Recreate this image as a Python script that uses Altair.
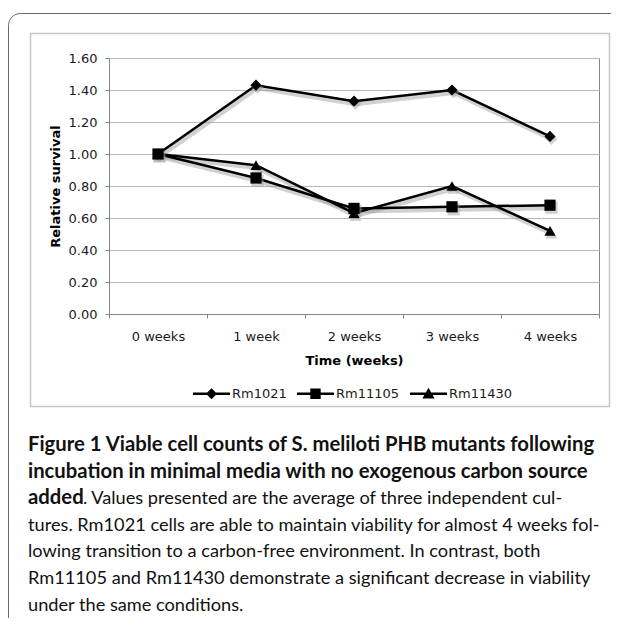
import altair as alt
import pandas as pd

# ---------------- data ----------------
weeks = ["0 weeks", "1 week", "2 weeks", "3 weeks", "4 weeks"]
series_names = ["Rm1021", "Rm11105", "Rm11430"]
rm1021 = [1.00, 1.43, 1.33, 1.40, 1.11]
rm11105 = [1.00, 0.85, 0.66, 0.67, 0.68]
rm11430 = [1.00, 0.93, 0.63, 0.80, 0.52]
y_ticks = [0.0, 0.2, 0.4, 0.6, 0.8, 1.0, 1.2, 1.4, 1.6]

caption_bold = [
    "Figure 1 Viable cell counts of S. meliloti PHB mutants following",
    "incubation in minimal media with no exogenous carbon source",
    "added",
]
caption_regular_first = ". Values presented are the average of three independent cul-"
caption_regular = [
    "tures. Rm1021 cells are able to maintain viability for almost 4 weeks fol-",
    "lowing transition to a carbon-free environment. In contrast, both",
    "Rm11105 and Rm11430 demonstrate a significant decrease in viability",
    "under the same conditions.",
]

# draw order: square series last so it sits on top at 0 weeks
draw_order = {"Rm1021": 0, "Rm11430": 1, "Rm11105": 2}
rows = []
for name, vals in zip(series_names, [rm1021, rm11105, rm11430]):
    for w, v in zip(weeks, vals):
        rows.append({"series": name, "week": w, "value": v, "ord": draw_order[name]})
df = pd.DataFrame(rows).sort_values(["ord"]).reset_index(drop=True)
one = pd.DataFrame({"k": [0]})

# ---------------- layout (plot origin in page px) ----------------
OX, OY = 109, 58
W, H = 490, 256
SVG_W, SVG_H = 603, 610
FONT = "DejaVu Sans"
GRAY = "#868686"

x_enc = alt.X(
    "week:N",
    sort=weeks,
    bandPosition=0.5,
    scale=alt.Scale(type="band", paddingInner=0, paddingOuter=0),
    axis=alt.Axis(
        title="Time (weeks)", labelAngle=0, tickBand="extent", tickSize=4,
        labelPadding=12, labelFont=FONT, labelFontSize=13, labelColor="#1a1a1a",
        titleFont=FONT, titleFontSize=13, titleFontWeight="bold", titleColor="#000000",
        titleY=46, titleBaseline="middle", domainColor=GRAY, tickColor=GRAY, grid=False,
    ),
)
y_enc = alt.Y(
    "value:Q",
    scale=alt.Scale(domain=[0, 1.6], nice=False, zero=True),
    axis=alt.Axis(
        values=y_ticks, format=".2f", title="Relative survival", tickSize=4,
        labelPadding=8, labelFont=FONT, labelFontSize=13, labelColor="#1a1a1a",
        titleFont=FONT, titleFontSize=13, titleFontWeight="bold", titleColor="#000000",
        titleX=-54, titleY=128, titleAngle=270, titleBaseline="middle", titleAlign="center",
        grid=True, gridColor="#b8b8b8", domainColor=GRAY, tickColor=GRAY,
    ),
)

base = alt.Chart(df)

outer_frame = alt.Chart(one).mark_rect(
    fill="transparent", stroke="#6a6a6a", strokeWidth=1, cornerRadiusTopLeft=12
).encode(
    x=alt.value(8.5 - OX), y=alt.value(13.5 - OY), x2=alt.value(800), y2=alt.value(800)
)
chart_box = alt.Chart(one).mark_rect(
    fill="transparent", stroke="#c8c8c8", strokeWidth=1.5
).encode(
    x=alt.value(30.5 - OX), y=alt.value(33.5 - OY), x2=alt.value(609.5 - OX), y2=alt.value(406.5 - OY)
)

shadow_lines = base.mark_line(
    color="#9a9a9a", opacity=0.45, strokeWidth=5, xOffset=1.5, yOffset=2.5
).encode(x=x_enc, y=y_enc, detail="series:N")
lines = base.mark_line(color="#000000", strokeWidth=2.5).encode(
    x=x_enc, y=y_enc, detail="series:N"
)
shape_scale = alt.Scale(domain=series_names, range=["diamond", "square", "triangle-up"])
shadow_points = base.mark_point(
    filled=True, color="#9a9a9a", opacity=0.45, size=150, xOffset=1.5, yOffset=2.5
).encode(x=x_enc, y=y_enc, shape=alt.Shape("series:N", scale=shape_scale, legend=None))
points = base.mark_point(filled=True, color="#000000", opacity=1, size=125).encode(
    x=x_enc, y=y_enc, shape=alt.Shape("series:N", scale=shape_scale, legend=None)
)

bar = "M-1,-0.07H1V0.07H-1Z "
legend_paths = [
    bar + "M0,-0.3L0.3,0L0,0.3L-0.3,0Z",
    bar + "M-0.28,-0.28H0.28V0.28H-0.28Z",
    bar + "M0,-0.33L0.33,0.25H-0.33Z",
]
legend_layer = base.mark_point(filled=True, color="#000000", size=0, opacity=1).encode(
    x=x_enc, y=y_enc,
    shape=alt.Shape(
        "series:N",
        scale=alt.Scale(domain=series_names, range=legend_paths),
        legend=alt.Legend(
            title=None, orient="none", legendX=193 - OX, legendY=375 - OY,
            direction="horizontal", columns=3, symbolSize=1369, symbolStrokeWidth=0,
            labelFont=FONT, labelFontSize=13, labelColor="#1a1a1a", labelOffset=2,
            columnPadding=10, padding=0,
        ),
    ),
)

CAP_X = 28 - OX
CAP_Y0 = 451 - OY
LH = 26.6
CAP_FONT = "Lato"
BOLD_SIZE = 20.3
REG_SIZE = 18.2
text_layers = []
for i, line in enumerate(caption_bold):
    text_layers.append(
        alt.Chart(one).mark_text(
            align="left", baseline="alphabetic", font=CAP_FONT, fontSize=BOLD_SIZE,
            fontWeight="bold", color="#111111"
        ).encode(x=alt.value(CAP_X), y=alt.value(CAP_Y0 + i * LH), text=alt.value(line))
    )
text_layers.append(
    alt.Chart(one).mark_text(
        align="left", baseline="alphabetic", font=CAP_FONT, fontSize=REG_SIZE, color="#111111"
    ).encode(x=alt.value(CAP_X + 55), y=alt.value(CAP_Y0 + 2 * LH), text=alt.value(caption_regular_first))
)
for j, line in enumerate(caption_regular):
    text_layers.append(
        alt.Chart(one).mark_text(
            align="left", baseline="alphabetic", font=CAP_FONT, fontSize=REG_SIZE, color="#111111"
        ).encode(x=alt.value(CAP_X), y=alt.value(CAP_Y0 + (3 + j) * LH), text=alt.value(line))
    )

chart = alt.layer(
    outer_frame, chart_box, shadow_lines, lines, shadow_points, points, legend_layer, *text_layers
).resolve_scale(shape="independent").properties(
    width=W, height=H,
    padding={"left": OX - 8, "top": OY - 8, "right": SVG_W - (OX - 8) - W, "bottom": SVG_H - (OY - 8) - H},
    autosize=alt.AutoSizeParams(type="none"),
    background="white",
).configure_view(stroke=GRAY, strokeWidth=1)

chart.save("out.html", embed_options={"renderer": "svg", "actions": False})
